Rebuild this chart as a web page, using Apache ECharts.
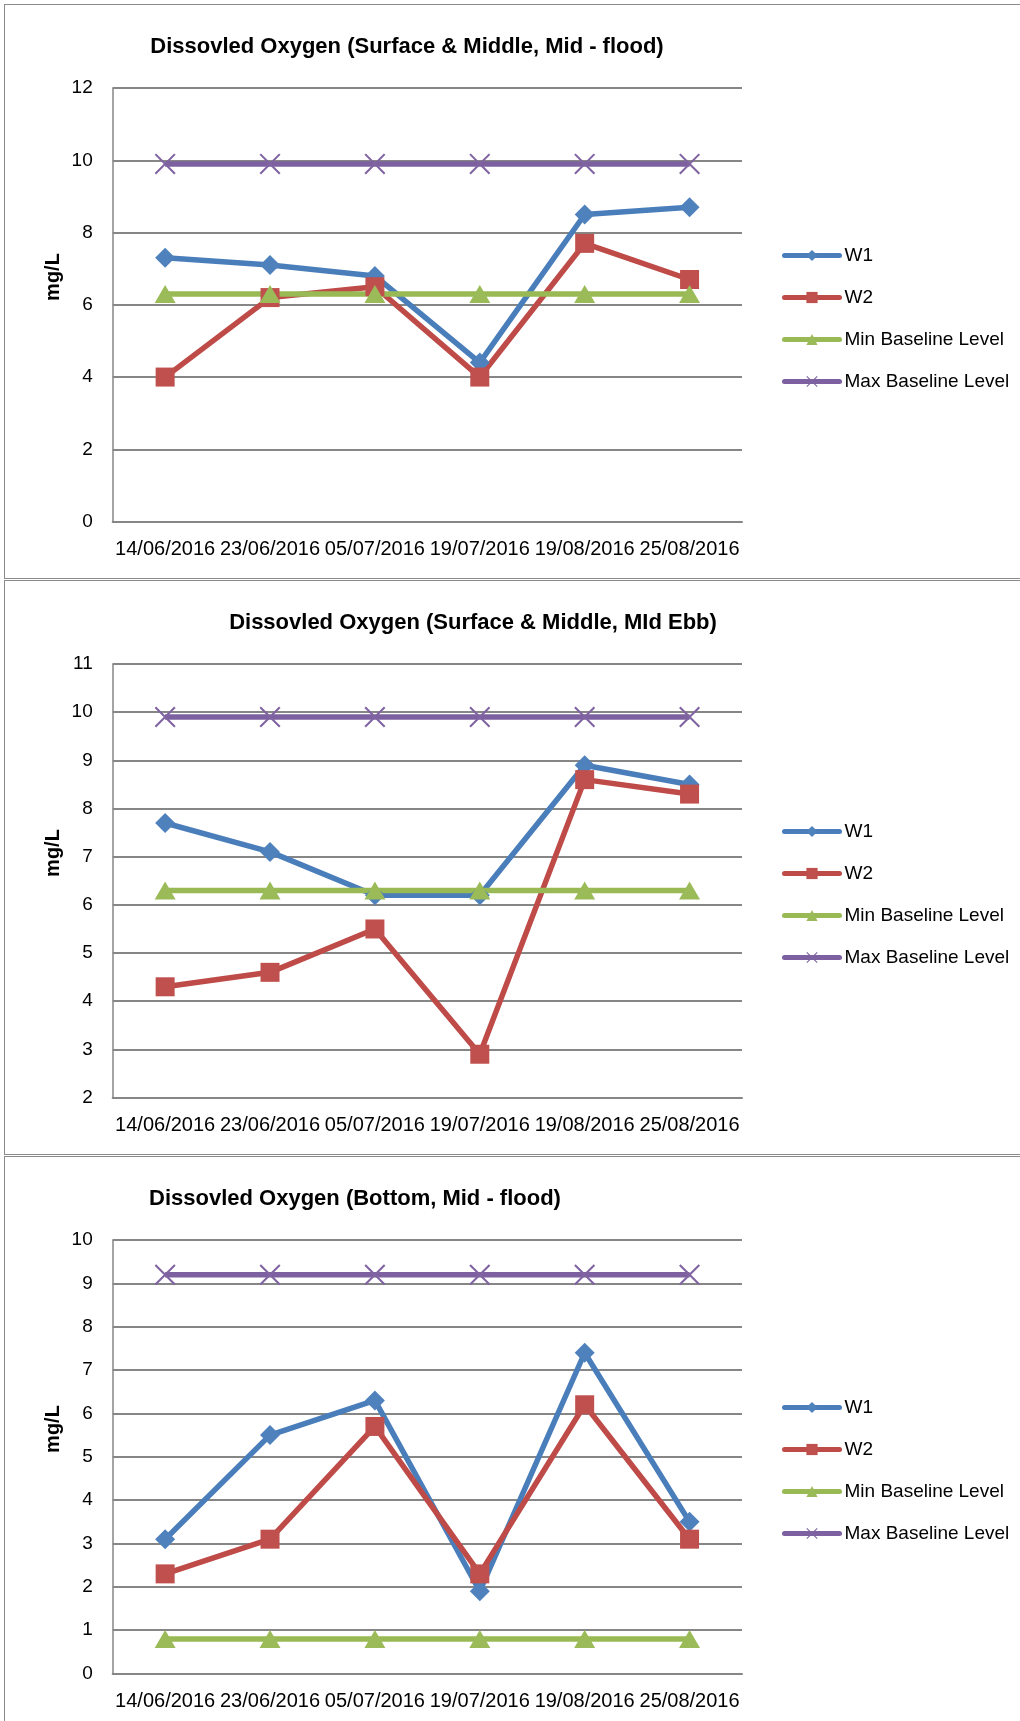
<!DOCTYPE html>
<html>
<head>
<meta charset="utf-8">
<script src="https://cdn.jsdelivr.net/npm/echarts@6/dist/echarts.min.js"></script>
<style>
  html, body { margin: 0; padding: 0; background: #fff; width: 1020px; height: 1721px; overflow: hidden; }
  .frame { position: absolute; border: 1px solid #8a8a8a; box-sizing: border-box; }
  .chart { position: absolute; left: 0; width: 1020px; height: 576px; }
</style>
</head>
<body>
<div class="frame" style="left:4px; top:4px; width:1100px; height:575px;"></div>
<div class="frame" style="left:4px; top:580px; width:1100px; height:575px;"></div>
<div class="frame" style="left:4px; top:1156px; width:1100px; height:600px;"></div>
<div id="c1" class="chart" style="top:0px;"></div>
<div id="c2" class="chart" style="top:576px;"></div>
<div id="c3" class="chart" style="top:1152px;"></div>
<script>
// Sampling dates shared by all three charts
const dates = ['14/06/2016', '23/06/2016', '05/07/2016', '19/07/2016', '19/08/2016', '25/08/2016'];
const seriesNames = ['W1', 'W2', 'Min Baseline Level', 'Max Baseline Level'];

// Surface & Middle, mid-flood (mg/L)
const floodSurfW1 = [7.3, 7.1, 6.8, 4.4, 8.5, 8.7];
const floodSurfW2 = [4.0, 6.2, 6.5, 4.0, 7.7, 6.7];
const floodSurfMin = [6.3, 6.3, 6.3, 6.3, 6.3, 6.3];
const floodSurfMax = [9.9, 9.9, 9.9, 9.9, 9.9, 9.9];

// Surface & Middle, mid-ebb (mg/L)
const ebbSurfW1 = [7.7, 7.1, 6.2, 6.2, 8.9, 8.5];
const ebbSurfW2 = [4.3, 4.6, 5.5, 2.9, 8.6, 8.3];
const ebbSurfMin = [6.3, 6.3, 6.3, 6.3, 6.3, 6.3];
const ebbSurfMax = [9.9, 9.9, 9.9, 9.9, 9.9, 9.9];

// Bottom, mid-flood (mg/L)
const floodBotW1 = [3.1, 5.5, 6.3, 1.9, 7.4, 3.5];
const floodBotW2 = [2.3, 3.1, 5.7, 2.3, 6.2, 3.1];
const floodBotMin = [0.8, 0.8, 0.8, 0.8, 0.8, 0.8];
const floodBotMax = [9.2, 9.2, 9.2, 9.2, 9.2, 9.2];

const FONT = "'Liberation Sans', Arial, sans-serif";
const GRID_COLOR = '#868686';

// thin "x" marker built from two slim bars
const X_SYMBOL = 'path://M0,1.4 L1.4,0 L20,18.6 L18.6,20 Z M18.6,0 L20,1.4 L1.4,20 L0,18.6 Z';

const styles = [
  { symbol: 'diamond', size: [20, 20], line: '#4A7EBB', fill: '#4F81BD' },
  { symbol: 'rect', size: [19, 19], line: '#BE4B48', fill: '#C0504D' },
  { symbol: 'triangle', size: [21, 18], line: '#98B954', fill: '#9BBB59' },
  { symbol: X_SYMBOL, size: [21, 21], line: '#7D60A0', fill: '#8064A2' }
];

function buildOption(titleText, titleX, yMin, yMax, yStep, values) {
  return {
    animation: false,
    title: {
      text: titleText,
      left: titleX,
      top: 36,
      textAlign: 'center',
      padding: 0,
      textStyle: { fontFamily: FONT, fontSize: 22, fontWeight: 'bold', color: '#000' }
    },
    grid: { left: 112.7, top: 88, width: 629.3, height: 433.6, containLabel: false },
    legend: {
      orient: 'vertical',
      left: 782,
      top: 246,
      padding: 0,
      itemWidth: 55,
      itemHeight: 14,
      itemGap: 23,
      data: seriesNames,
      lineStyle: { width: 5, cap: 'round' },
      textStyle: { fontFamily: FONT, fontSize: 19, color: '#000' }
    },
    xAxis: {
      type: 'category',
      data: dates,
      boundaryGap: true,
      axisLine: { lineStyle: { color: GRID_COLOR, width: 2 } },
      axisTick: { show: false },
      axisLabel: { interval: 0, margin: 18, fontFamily: FONT, fontSize: 20, color: '#000' }
    },
    yAxis: {
      type: 'value',
      min: yMin,
      max: yMax,
      interval: yStep,
      axisLine: { show: true, lineStyle: { color: GRID_COLOR, width: 1.5 } },
      axisTick: { show: false },
      splitLine: { lineStyle: { color: GRID_COLOR, width: 2 } },
      axisLabel: { margin: 20, fontFamily: FONT, fontSize: 19, color: '#000' }
    },
    graphic: [{
      type: 'text',
      x: 53,
      y: 277,
      rotation: Math.PI / 2,
      style: {
        text: 'mg/L',
        fontFamily: FONT,
        fontSize: 20,
        fontWeight: 'bold',
        fill: '#000',
        align: 'center',
        verticalAlign: 'middle'
      }
    }],
    series: values.map((data, i) => ({
      name: seriesNames[i],
      type: 'line',
      data: data,
      symbol: styles[i].symbol,
      symbolSize: styles[i].size,
      showAllSymbol: true,
      color: styles[i].fill,
      lineStyle: { color: styles[i].line, width: 5.5 },
      itemStyle: { color: styles[i].fill, borderWidth: 0 },
      emphasis: { disabled: true }
    }))
  };
}

const charts = [
  ['c1', 'Dissovled Oxygen (Surface & Middle, Mid - flood)', 407, 0, 12, 2,
    [floodSurfW1, floodSurfW2, floodSurfMin, floodSurfMax]],
  ['c2', 'Dissovled Oxygen (Surface & Middle, MId Ebb)', 473, 2, 11, 1,
    [ebbSurfW1, ebbSurfW2, ebbSurfMin, ebbSurfMax]],
  ['c3', 'Dissovled Oxygen (Bottom, Mid - flood)', 355, 0, 10, 1,
    [floodBotW1, floodBotW2, floodBotMin, floodBotMax]]
];

charts.forEach(([id, title, tx, lo, hi, step, vals]) => {
  const chart = echarts.init(document.getElementById(id));
  chart.setOption(buildOption(title, tx, lo, hi, step, vals));
});
</script>
</body>
</html>
